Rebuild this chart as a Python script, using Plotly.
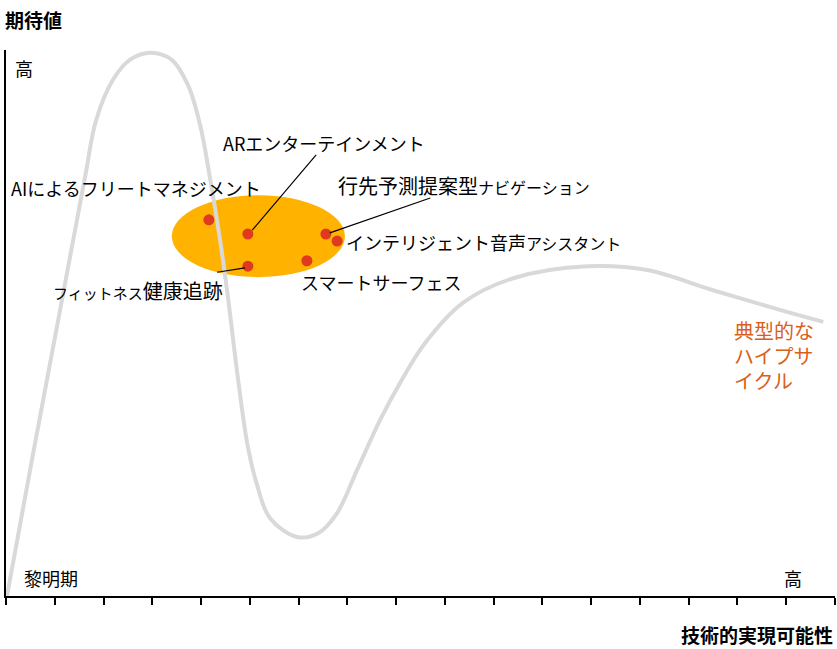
import plotly.graph_objects as go

# Hype cycle curve (x: 技術的実現可能性 0-17 ticks, y: 期待値 0-100)
curve_x = [0.02, 0.55, 1.11, 1.62, 1.85, 2.19, 2.54, 2.97, 3.40, 3.73, 3.98, 4.18, 4.39, 4.55,
           4.76, 4.96, 5.15, 5.41, 5.97, 6.40, 6.79, 7.20, 7.67, 8.08, 8.59, 9.37, 10.40,
           11.92, 13.15, 14.50, 15.87, 16.76]
curve_y = [0.0, 25.8, 52.4, 76.7, 87.2, 94.5, 98.2, 99.5, 98.2, 93.6, 86.3, 76.7, 65.2, 54.8,
           39.6, 27.3, 20.3, 14.3, 10.8, 11.5, 15.2, 23.1, 32.2, 39.0, 46.3, 53.7, 58.2,
           60.4, 59.7, 56.0, 52.4, 50.2]

# Technologies (red dots)
tech_names = ["AIによるフリートマネジメント", "ARエンターテインメント", "行先予測提案型ナビゲーション",
              "インテリジェント音声アシスタント", "スマートサーフェス", "フィットネス健康追跡"]
tech_x = [4.16, 4.96, 6.56, 6.79, 6.17, 4.96]
tech_y = [68.9, 66.3, 66.3, 65.0, 61.4, 60.4]

hype_lines = ["典型的な", "ハイプサ", "イクル"]

FONT = "Noto Sans CJK JP, Noto Sans, sans-serif"

fig = go.Figure()

fig.add_trace(go.Scatter(x=curve_x, y=curve_y, mode="lines",
                         line=dict(color="#D9D9D9", width=4, shape="spline", smoothing=1.0),
                         hoverinfo="skip", showlegend=False))
fig.add_trace(go.Scatter(x=tech_x, y=tech_y, mode="markers", text=tech_names,
                         marker=dict(color="#E03A1E", size=11), showlegend=False, cliponaxis=False))

# Orange ellipse (focus area)
fig.add_shape(type="circle", xref="x", yref="y", x0=3.40, x1=6.95, y0=58.4, y1=73.4,
              fillcolor="#FFB300", line=dict(width=0), layer="below")

# Leader lines
leaders = [((5.05, 67.0), (6.36, 80.8)), ((6.64, 66.5), (8.70, 72.9)), ((4.33, 59.3), (4.90, 60.1))]
for (a, b) in leaders:
    fig.add_shape(type="line", xref="x", yref="y", x0=a[0], y0=a[1], x1=b[0], y1=b[1],
                  line=dict(color="black", width=1.2))

def ann(x, y, text, size=18, color="black", xanchor="left", xref="x", yref="y", align="left"):
    fig.add_annotation(x=x, y=y, xref=xref, yref=yref, text=text, showarrow=False,
                       xanchor=xanchor, yanchor="middle", align=align, borderpad=0,
                       font=dict(family=FONT, size=size, color=color))

ann(4.43, 83.0, "ARエンターテインメント", 18)
ann(0.08, 74.7, "AIによるフリートマネジメント", 18)
ann(6.79, 75.1, "行先予測提案型<span style='font-size:16px'>ナビゲーション</span>", 20)
ann(6.95, 64.8, "インテリジェント音声<span style='font-size:16px'>アシスタント</span>", 18)
ann(6.03, 57.5, "スマートサーフェス", 18)
ann(0.94, 55.9, "<span style='font-size:15px'>フィットネス</span>健康追跡", 20)
for line_text, ly in zip(hype_lines, [48.7, 44.0, 39.4]):
    ann(14.91, ly, line_text, 20, color="#D9601A")
ann(0.16, 96.7, "高", 18)
ann(0.35, 3.3, "黎明期", 18)
ann(15.94, 3.3, "高", 18)

# Axis titles (paper coords are relative to the plot area)
ann(-0.003, 1.055, "<b>期待値</b>", 19, xref="paper", yref="paper")
ann(0.999, -0.0714, "<b>技術的実現可能性</b>", 19, xanchor="right", xref="paper", yref="paper")

fig.update_layout(
    width=837, height=649,
    margin=dict(l=6, r=2, t=50, b=53),
    paper_bgcolor="white", plot_bgcolor="white",
    xaxis=dict(range=[0, 17], dtick=1, tick0=0, showgrid=False, zeroline=False, showline=True,
               linecolor="black", linewidth=2, ticks="outside", ticklen=7, tickwidth=2,
               tickcolor="black", showticklabels=False, fixedrange=True),
    yaxis=dict(range=[0, 100], showgrid=False, zeroline=False, showline=True,
               linecolor="black", linewidth=2, ticks="", showticklabels=False, fixedrange=True),
    font=dict(family=FONT),
)

fig.write_html("out.html")
